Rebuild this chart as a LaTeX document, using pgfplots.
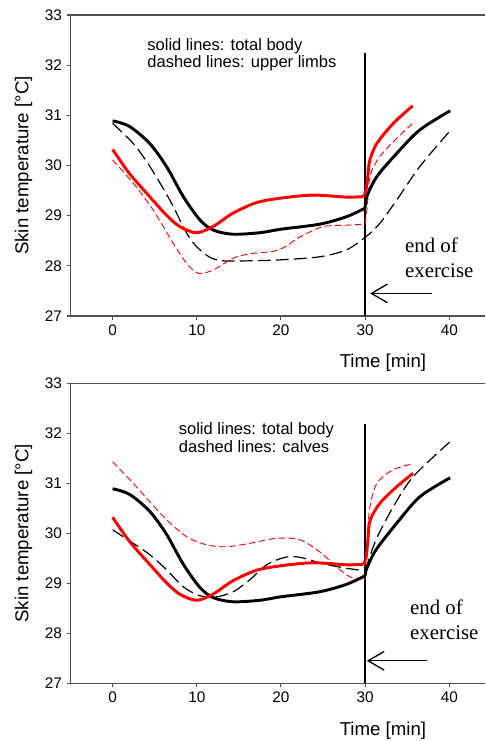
\documentclass[border=0pt]{standalone}
\usepackage{fontspec}
\setmainfont{Liberation Sans}
\newfontfamily\timesfont{Liberation Serif}
\usepackage{pgfplots}
\pgfplotsset{compat=1.18}
\usetikzlibrary{arrows.meta}

\definecolor{axisgray}{HTML}{505050}

\pgfplotsset{
  skinaxis/.style={
    scale only axis, width=311.2pt,
    xmin=-5, xmax=44.3, ymin=27, ymax=33,
    axis x line*=box, axis y line*=left,
    axis line style={-, axisgray, line width=0.8pt},
    xtick={0,10,20,30,40}, ytick={27,28,...,33},
    xtick pos=bottom, ytick pos=left,
    tick align=outside, major tick length=3pt,
    every tick/.style={axisgray, line width=0.8pt},
    tick label style={font=\fontsize{11.5}{13}\selectfont, black},
    /pgf/number format/assume math mode=true,
    xlabel={Time [min]}, ylabel={Skin temperature [°C]},
    label style={font=\fontsize{14}{16}\selectfont},
    xlabel style={at={(axis description cs:0.753,0)}, yshift=-35.3pt, anchor=center},
    ylabel style={at={(axis description cs:-0.113,0.5)}, anchor=center},
  },
  tot/.style={line width=2.2pt, smooth},
  limb/.style={line width=0.9pt, smooth, dash pattern=on 9.5pt off 4pt},
  limbred/.style={line width=0.7pt, smooth, dash pattern=on 5pt off 2.5pt},
  endline/.style={black, line width=1.1pt},
  endarrow/.style={black, line width=1pt, -{Straight Barb[length=12pt, width=14pt, line width=1pt]}},
}

\begin{document}
\begin{tikzpicture}
% upper panel: total body and upper limbs
\begin{axis}[skinaxis, height=225.75pt, at={(0,0)}, anchor=north west]
\addplot[endline] coordinates {(30,27) (30,32.25)};
% upper limbs, black dashed
\addplot[limb, black] coordinates {
  (0,30.84) (2.45,30.44) (4.43,29.98) (6.8,29.31) (8.8,28.65) (10,28.38)
  (11.56,28.17) (13.1,28.10) (16.3,28.10) (20,28.12) (24.6,28.18)
  (27.8,28.32) (30.1,28.58) (31.76,28.85) (33.75,29.31) (36.5,29.98) (40.08,30.69)};
% upper limbs, red dashed
\addplot[limbred, red] coordinates {
  (0,30.11) (2.45,29.65) (4.83,29.11) (7.2,28.45) (8.8,28.05) (10.2,27.85)
  (12,27.92) (14.3,28.15) (16.3,28.24) (19.1,28.29) (20.5,28.38) (22.3,28.58)
  (25,28.78) (27.8,28.81) (30,28.83)};
\addplot[limbred, red] coordinates {
  (30,28.83) (30.26,29.18) (30.6,29.8) (31.76,30.18) (33.75,30.54) (35.65,30.84)};
% total body, black
\addplot[tot, black] coordinates {
  (0,30.89) (2,30.78) (4.4,30.44) (6.4,29.98) (8.4,29.38) (10.4,28.91)
  (12,28.71) (14.3,28.63) (17.5,28.66) (20,28.73) (24.6,28.83) (27.8,28.98) (30,29.15)};
\addplot[tot, black] coordinates {
  (30,29.15) (30.2,29.38) (31.4,29.78) (33.75,30.24) (36.5,30.71) (40.1,31.09)};
% total body, red
\addplot[tot, red] coordinates {
  (0,30.32) (2,29.84) (4.4,29.38) (6.4,29.01) (8,28.78) (10,28.66) (12,28.79)
  (14.3,29.05) (17.1,29.26) (20,29.35) (23.8,29.41) (27.8,29.37) (29.8,29.38)};
\addplot[tot, red] coordinates {
  (29.8,29.38) (30.1,29.5) (30.3,29.75) (30.55,30.1) (31.4,30.44) (33.35,30.84) (35.65,31.19)};
\addplot[endarrow] coordinates {(37.9,27.45) (30.6,27.45)};
\node[anchor=west, align=left, inner sep=0, font=\fontsize{12.4}{13.2}\selectfont]
  at (axis cs:4.1,32.21) {solid lines: total body\\dashed lines: upper limbs};
\node[anchor=west, align=left, inner sep=0, font=\timesfont\fontsize{15.6}{18.2}\selectfont]
  at (axis cs:34.73,28.16) {end of\\exercise};
\end{axis}

% lower panel: total body and calves
\begin{axis}[skinaxis, height=225pt, at={(0,-276.2pt)}, anchor=north west]
\addplot[endline] coordinates {(30,27) (30,32.18)};
% calves, red dashed
\addplot[limbred, red] coordinates {
  (0,31.43) (2.45,31.0) (4.43,30.63) (6.42,30.27) (8.8,29.93) (11.17,29.77)
  (13.55,29.73) (16.3,29.8) (19.5,29.9) (22.26,29.87) (24.6,29.63) (26.6,29.33)
  (28.2,29.13) (30,29.08)};
\addplot[limbred, red] coordinates {
  (30,29.08) (30.26,29.87) (30.55,30.5) (31.4,31.0) (33.35,31.27) (35.65,31.39)};
% calves, black dashed
\addplot[limb, black] coordinates {
  (0,30.07) (2.45,29.8) (4.43,29.57) (6.42,29.27) (8.39,28.93) (10.37,28.75)
  (12.36,28.73) (14.33,28.83) (16.3,29.07) (18.3,29.37) (20.5,29.52) (22.26,29.52)
  (25,29.39) (27.8,29.3) (30,29.25)};
\addplot[limb, black] coordinates {
  (30,29.25) (31.3,29.87) (33.35,30.53) (35.7,31.13) (40.08,31.83)};
% total body, black
\addplot[tot, black] coordinates {
  (0,30.89) (2,30.78) (4.4,30.44) (6.4,29.98) (8.4,29.38) (10.4,28.91)
  (12,28.71) (14.3,28.63) (17.5,28.66) (20,28.73) (24.6,28.83) (27.8,28.98) (30,29.15)};
\addplot[tot, black] coordinates {
  (30,29.15) (30.2,29.3) (31.3,29.67) (33.75,30.2) (36.5,30.73) (40.1,31.11)};
% total body, red
\addplot[tot, red] coordinates {
  (0,30.32) (2,29.84) (4.4,29.38) (6.4,29.01) (8,28.78) (10,28.66) (12,28.79)
  (14.3,29.05) (17.1,29.26) (20,29.35) (23.8,29.41) (27.8,29.37) (29.8,29.38)};
\addplot[tot, red] coordinates {
  (29.8,29.38) (30.1,29.5) (30.3,29.8) (30.58,30.25) (31.76,30.6) (33.75,30.93) (35.7,31.2)};
\addplot[endarrow] coordinates {(37.4,27.45) (30.2,27.45)};
\node[anchor=west, align=left, inner sep=0, font=\fontsize{12.4}{13.2}\selectfont]
  at (axis cs:7.84,31.91) {solid lines: total body\\dashed lines: calves};
\node[anchor=west, align=left, inner sep=0, font=\timesfont\fontsize{15.6}{18.2}\selectfont]
  at (axis cs:35.33,28.27) {end of\\exercise};
\end{axis}
\pgfresetboundingbox
\path[use as bounding box] (-52.9pt,-545.25pt) rectangle (311.2pt,11.25pt);
\end{tikzpicture}
\end{document}
